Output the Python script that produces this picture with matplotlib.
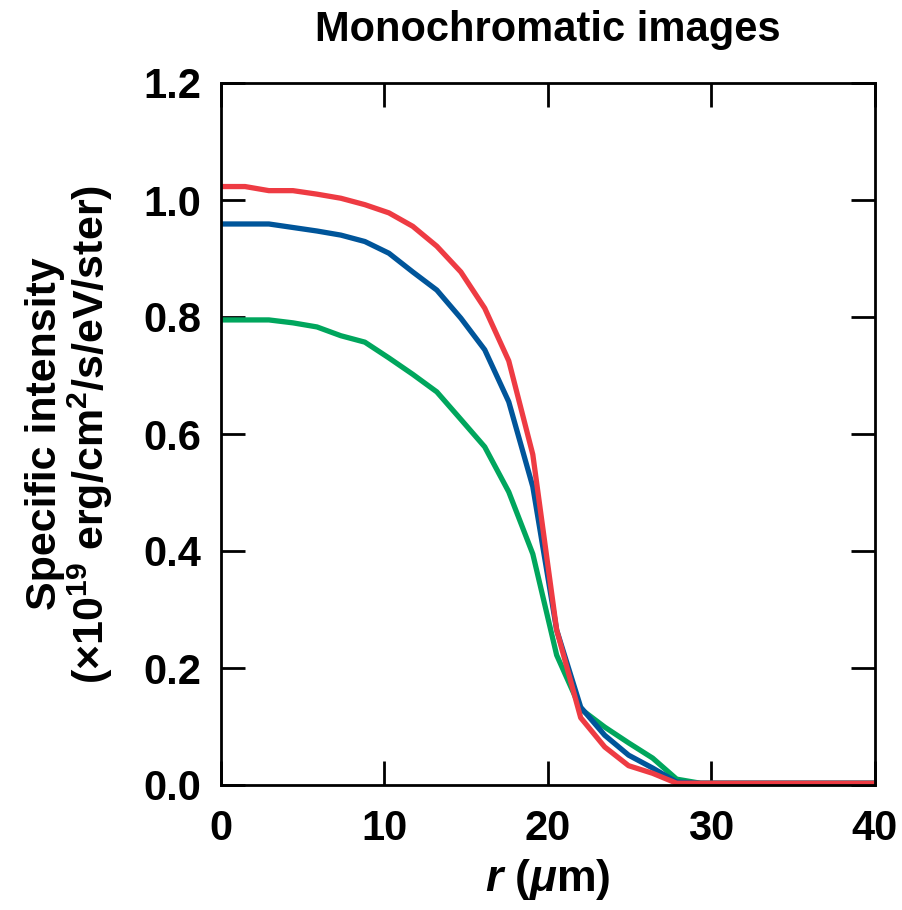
import numpy as np
import matplotlib
matplotlib.use('Agg')
import matplotlib.pyplot as plt

plt.rcParams['font.family'] = ['Liberation Sans', 'DejaVu Sans']
plt.rcParams['font.weight'] = 'bold'
plt.rcParams['mathtext.fontset'] = 'custom'
plt.rcParams['mathtext.rm'] = 'Liberation Sans:bold'
plt.rcParams['mathtext.it'] = 'Liberation Sans:bold:italic'
plt.rcParams['mathtext.bf'] = 'Liberation Sans:bold'

# radius grid (um)
r = [0, 1.47, 2.93, 4.40, 5.87, 7.33, 8.80, 10.27, 11.73, 13.20, 14.67,
     16.13, 17.60, 19.07, 20.53, 22.00, 23.47, 24.93, 26.40, 27.87, 29.33, 40]

# specific intensity (x1e19 erg/cm2/s/eV/ster)
red = [1.023, 1.023, 1.016, 1.016, 1.010, 1.003, 0.992, 0.978, 0.955, 0.921, 0.877,
       0.815, 0.725, 0.565, 0.265, 0.115, 0.065, 0.033, 0.020, 0.003, 0.003, 0.003]
blue = [0.959, 0.959, 0.959, 0.953, 0.947, 0.940, 0.929, 0.909, 0.877, 0.846, 0.798,
        0.744, 0.655, 0.510, 0.265, 0.133, 0.085, 0.051, 0.029, 0.005, 0.003, 0.003]
green = [0.795, 0.795, 0.795, 0.790, 0.783, 0.768, 0.757, 0.730, 0.702, 0.672, 0.625,
         0.578, 0.501, 0.395, 0.222, 0.130, 0.099, 0.072, 0.046, 0.010, 0.003, 0.003]

fig = plt.figure(figsize=(9.03, 9.10), dpi=100)
ax = fig.add_axes([221/903, 1-785/910, (875-221)/903, (785-83)/910])

ax.plot(r, green, color='#00A65D', lw=3.8)
ax.plot(r, blue, color='#00559A', lw=3.8)
ax.plot(r, red, color='#EE3B43', lw=3.8)

ax.set_xlim(0, 40)
ax.set_ylim(0, 1.2)
ax.set_xticks([0, 10, 20, 30, 40])
ax.set_yticks([0, 0.2, 0.4, 0.6, 0.8, 1.0, 1.2])
ax.set_yticklabels(['0.0', '0.2', '0.4', '0.6', '0.8', '1.0', '1.2'])
ax.tick_params(direction='in', length=17, width=2, top=True, right=True,
               labelsize=30)
ax.tick_params(axis='y', pad=14)
ax.tick_params(axis='x', pad=17)
for s in ax.spines.values():
    s.set_linewidth(2)

ax.set_title('Monochromatic images', fontsize=30, fontweight='bold', pad=30)
ax.set_xlabel(r'$r$ ($\mu$m)', fontsize=32, fontweight='bold')
ax.xaxis.set_label_coords(0.5, -0.102)

yc = 1 - 434/910
fig.text(45/903, yc, 'Specific intensity', rotation=90, fontsize=31,
         fontweight='bold', ha='center', va='center')
fig.text(90/903, yc, r'($\times$10$^{19}$ erg/cm$^{2}$/s/eV/ster)', rotation=90,
         fontsize=31, fontweight='bold', ha='center', va='center')

fig.savefig('out.png', dpi=100)
